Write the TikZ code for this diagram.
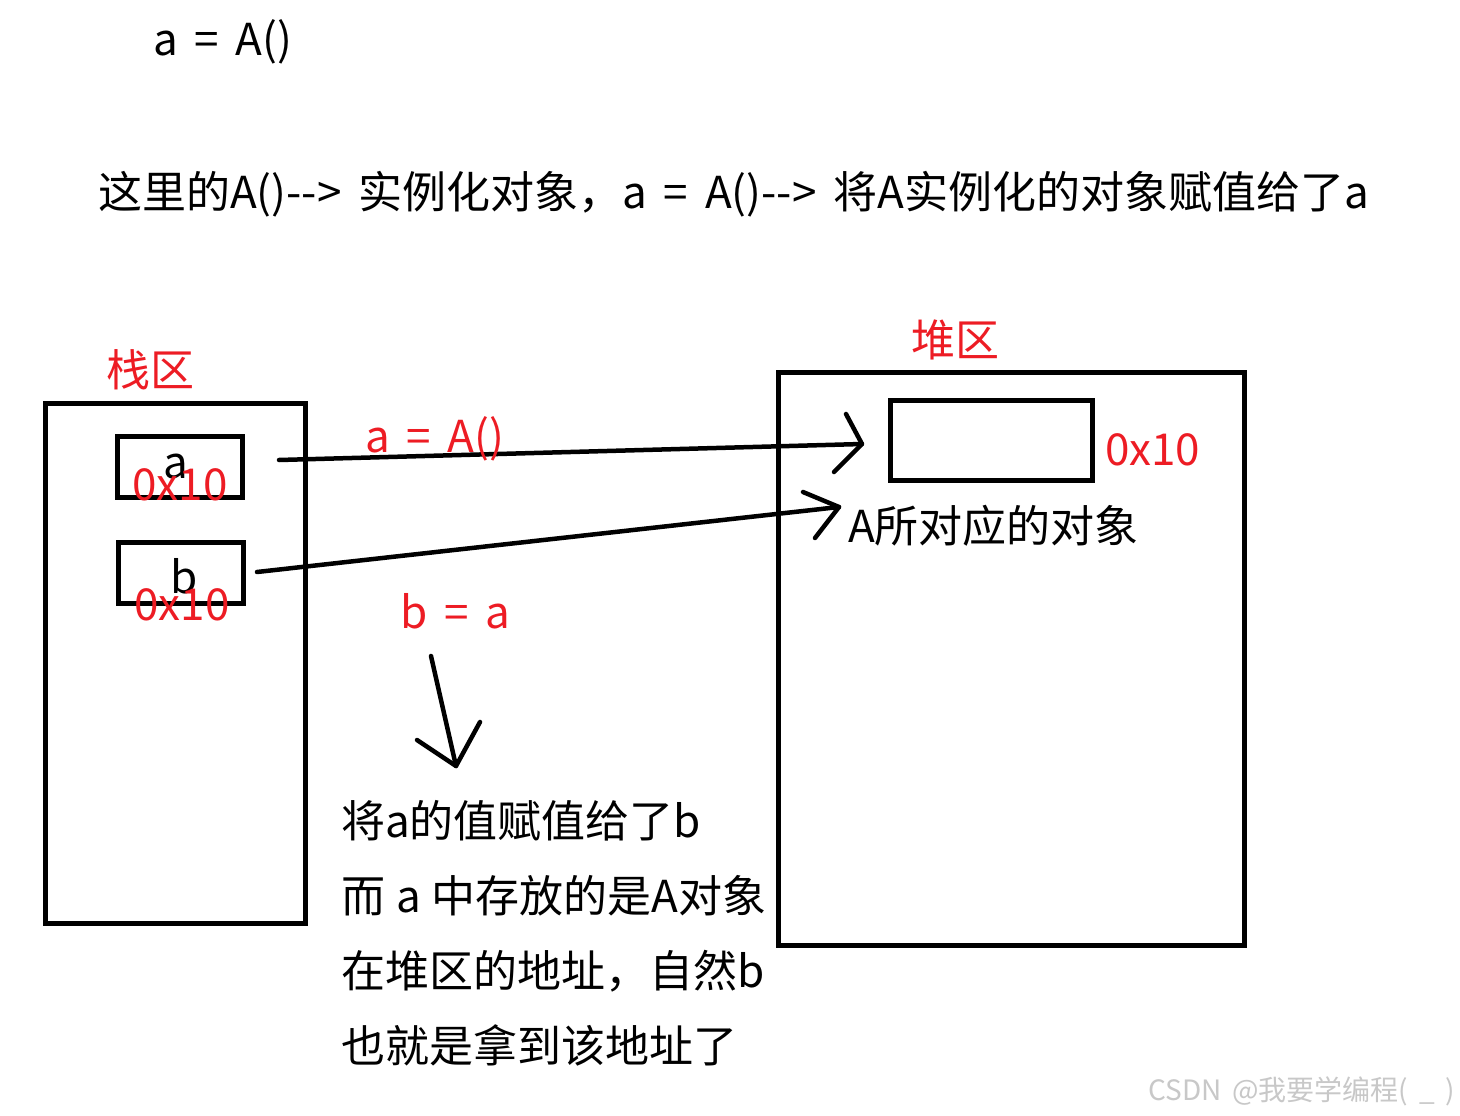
\documentclass[tikz,border=0pt]{standalone}
\usepackage{fontspec}
\setmainfont{Noto Sans CJK SC}[WordSpace=1.7]
\definecolor{paintred}{RGB}{237,28,36}
\definecolor{wmgray}{RGB}{200,200,200}
\newcommand{\hh}{-\kern0pt-}
\tikzset{
  box/.style={draw=black, line width=5pt, fill=none},
  pen/.style={draw=black, line width=4.5pt, line cap=round, line join=round},
  txt/.style={font=\fontsize{44}{44}\selectfont, inner sep=0pt, text=black},
  rtxt/.style={font=\fontsize{44}{44}\selectfont, inner sep=0pt, text=paintred},
  wm/.style={font=\fontsize{28}{28}\selectfont, inner sep=0pt, text=wmgray},
}
\begin{document}
\begin{tikzpicture}[x=1pt,y=-1pt]
\useasboundingbox[fill=white] (0,0) rectangle (1460,1116);
% top text
\node[txt, anchor=base west] (title) at (153,56) {a = A()};
\node[txt, anchor=base west] (expl) at (98,208) {这里的A()\hh> 实例化对象，a = A()\hh> 将A实例化的对象赋值给了a};
% stack
\node[rtxt, anchor=center] (stacklbl) at (150,370) {栈区};
\draw[box] (45,403) rectangle (305,923);
\node[box, minimum width=125pt, minimum height=61pt, inner sep=0pt] (boxa) at (179.5,466.5) {};
\node[box, minimum width=125pt, minimum height=61pt, inner sep=0pt] (boxb) at (180.5,572.5) {};
\node[txt, anchor=base] (la) at (176,478) {a};
\node[rtxt, anchor=base] (va) at (180,500) {0x10};
\node[txt, anchor=base] (lb) at (184,593) {b};
\node[rtxt, anchor=base] (vb) at (182,620) {0x10};
% heap
\node[rtxt, anchor=center] (heaplbl) at (955,340) {堆区};
\draw[box] (778,372) rectangle (1244,945);
\node[box, minimum width=202pt, minimum height=80pt, inner sep=0pt] (obj) at (991,440) {};
\node[rtxt, anchor=base west] (addr) at (1105,465) {0x10};
\node[txt, anchor=base west] (objlbl) at (848,542) {A所对应的对象};
% arrow 1
\coordinate (s1) at (279,460);
\coordinate (t1) at (862,444);
\coordinate (h1a) at (846,414);
\coordinate (h1b) at (834,472);
\draw[pen] (s1) -- (t1);
\draw[pen] (h1a) -- (t1) -- (h1b);
\node[rtxt, anchor=base west] (assign1) at (365,452) {a = A()};
% arrow 2
\coordinate (s2) at (257,572);
\coordinate (t2) at (839,507);
\coordinate (h2a) at (803,492);
\coordinate (h2b) at (815,538);
\draw[pen] (s2) -- (t2);
\draw[pen] (h2a) -- (t2) -- (h2b);
\node[rtxt, anchor=base west] (assign2) at (400,628) {b = a};
% down arrow
\coordinate (s3) at (431,656);
\coordinate (t3) at (456,766);
\coordinate (h3a) at (417,740);
\coordinate (h3b) at (480,722);
\draw[pen] (s3) -- (t3);
\draw[pen] (h3a) -- (t3) -- (h3b);
% explanation
\node[txt, anchor=base west] (e1) at (341,837) {将a的值赋值给了b};
\node[txt, anchor=base west] (e2) at (341,912) {而\hspace{11pt}a\hspace{11pt}中存放的是A对象};
\node[txt, anchor=base west] (e3) at (341,987) {在堆区的地址，自然b};
\node[txt, anchor=base west] (e4) at (341,1062) {也就是拿到该地址了};
% watermark
\node[wm, anchor=base east] (wmark) at (1455,1100) {CSDN @我要学编程( \_ )};
\end{tikzpicture}
\end{document}
